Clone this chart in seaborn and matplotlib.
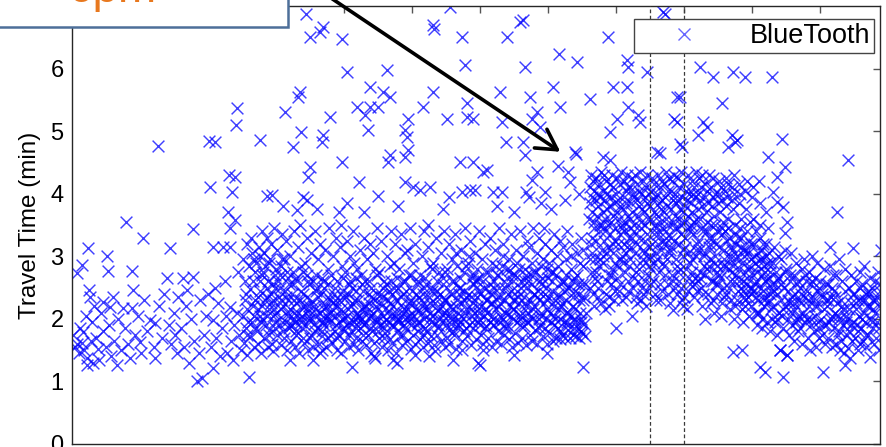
import numpy as np
import pandas as pd
import matplotlib
matplotlib.use("Agg")
import matplotlib.pyplot as plt
from matplotlib.patches import Rectangle
from matplotlib.lines import Line2D
import seaborn as sns

# ---------------- data (x = hours from start of axis, y = travel time in min) -------------
early_pts = [
    0.02,1.75, 0.05,1.55, 0.07,2.74, 0.08,1.6, 0.1,1.45, 0.12,1.85, 0.15,2.86, 0.15,1.62,
    0.16,1.79, 0.18,1.5, 0.2,2.05, 0.22,1.38, 0.22,1.26, 0.24,3.13, 0.25,2.46, 0.27,2.35,
    0.28,1.65, 0.3,1.95, 0.31,1.3, 0.33,2.2, 0.35,1.7, 0.38,1.52, 0.4,1.34, 0.42,2.1,
    0.45,1.8, 0.46,2.27, 0.5,1.55, 0.51,3.0, 0.53,2.77, 0.55,1.9, 0.56,2.19, 0.58,1.4,
    0.6,2.35, 0.62,1.65, 0.66,1.26, 0.68,2.0, 0.72,1.5, 0.75,2.18, 0.78,1.85, 0.8,3.54,
    0.82,1.6, 0.85,1.37, 0.88,2.77, 0.88,2.18, 0.9,2.46, 0.93,1.75, 0.97,2.05, 1.0,1.63,
    1.02,1.45, 1.04,3.3, 1.06,2.3, 1.1,1.8, 1.15,1.98, 1.2,1.55, 1.22,1.94, 1.22,1.37,
    1.28,2.2, 1.32,1.7, 1.36,2.4, 1.4,2.65, 1.42,1.9, 1.44,3.13, 1.46,1.6, 1.5,2.1,
    1.52,1.75, 1.54,1.46, 1.56,2.35, 1.6,1.85, 1.63,2.65, 1.65,1.55, 1.67,2.2, 1.69,2.46,
    1.72,1.3, 1.75,2.0, 1.78,2.67, 1.78,3.44, 1.8,1.65, 1.84,1.0, 1.86,1.45, 1.88,2.3,
    1.91,1.06, 1.94,1.75, 1.97,2.05, 2.0,2.4, 2.04,1.55, 2.07,1.22, 2.07,1.98, 2.07,3.15,
    2.1,2.5, 2.12,1.7, 2.15,2.25, 2.18,1.4, 2.2,1.85, 2.22,3.15, 2.25,2.6, 2.27,2.05,
    2.28,1.46, 2.32,2.19, 2.32,3.15, 2.34,1.65, 2.37,1.34, 2.38,1.9, 2.4,3.58, 2.32,3.46,
    2.43,2.1, 2.44,2.75, 2.46,1.75, 2.48,1.5, 2.6,1.07,
]

midday_a = [
    2.51,2.95, 2.53,1.62, 2.55,2.3, 2.56,1.85, 2.58,3.2, 2.52,2.05, 2.57,1.42, 2.54,2.6,
    2.61,1.72, 2.62,2.48, 2.64,3.05, 2.65,1.95, 2.66,2.2, 2.68,1.55, 2.69,2.75, 2.63,3.3,
    2.71,2.9, 2.72,1.8, 2.73,2.35, 2.74,1.6, 2.75,3.15, 2.76,2.05, 2.77,2.6, 2.78,1.45, 2.79,3.4, 2.74,2.15,
    2.8,2.0, 2.81,2.75, 2.82,1.7, 2.83,3.05, 2.84,2.3, 2.85,1.9, 2.86,3.3, 2.87,2.5, 2.88,1.55, 2.89,2.15, 2.84,2.85,
    2.9,1.82, 2.91,2.95, 2.92,2.25, 2.93,3.2, 2.94,1.6, 2.95,2.55, 2.96,2.05, 2.97,3.45, 2.98,1.95, 2.99,2.7, 2.93,2.4, 2.96,1.48,
    3.0,2.1, 3.01,3.1, 3.02,1.75, 3.03,2.6, 3.05,2.35, 3.06,1.9, 3.07,2.85, 3.08,1.58, 3.09,3.35, 3.04,2.0, 3.06,2.7,
    3.1,2.2, 3.11,1.7, 3.12,2.95, 3.13,2.45, 3.14,1.95, 3.15,3.25, 3.16,1.5, 3.17,2.65, 3.18,2.05, 3.19,1.85, 3.15,2.35,
    3.2,3.0, 3.21,2.15, 3.22,1.65, 3.23,2.4, 3.24,1.9, 3.25,2.75, 3.26,2.0, 3.27,3.4, 3.28,1.55, 3.29,2.25, 3.24,2.55,
    3.3,1.8, 3.31,2.6, 3.32,2.1, 3.33,3.15, 3.34,1.45, 3.35,2.3, 3.36,1.95, 3.37,2.85, 3.38,2.05, 3.39,1.7, 3.35,3.5,
    3.4,2.4, 3.41,1.62, 3.42,2.2, 3.43,2.9, 3.44,1.88, 3.45,3.3, 3.46,2.12, 3.47,1.5, 3.48,2.55, 3.49,1.98, 3.45,2.7,
    3.5,2.02, 3.51,3.05, 3.52,1.75, 3.53,2.28, 3.54,2.6, 3.55,1.55, 3.56,1.92, 3.57,3.4, 3.58,2.15, 3.59,2.45, 3.55,1.35,
    3.6,1.85, 3.61,2.35, 3.62,2.95, 3.63,1.6, 3.64,2.1, 3.65,3.2, 3.66,2.0, 3.67,2.65, 3.68,1.72, 3.69,2.22, 3.64,1.45,
    3.7,2.5, 3.71,1.9, 3.72,3.1, 3.73,1.55, 3.74,2.2, 3.75,2.05, 3.76,2.8, 3.77,1.7, 3.78,3.45, 3.79,2.3, 3.74,1.98,
    3.8,1.95, 3.81,2.7, 3.82,1.62, 3.83,2.15, 3.84,3.0, 3.85,2.4, 3.86,1.8, 3.87,2.05, 3.88,3.3, 3.89,1.5, 3.84,2.25,
    3.9,2.6, 3.91,1.75, 3.92,2.3, 3.93,1.95, 3.94,3.15, 3.95,2.1, 3.96,1.45, 3.97,2.85, 3.98,1.85, 3.99,2.45, 3.95,3.5,
]

midday_b = [
    4.0,2.0, 4.01,2.75, 4.02,1.65, 4.03,2.35, 4.04,3.25, 4.05,1.9, 4.06,2.15, 4.07,2.55, 4.08,1.55, 4.09,3.0, 4.04,2.05,
    4.1,1.8, 4.11,2.5, 4.12,2.25, 4.13,3.4, 4.14,1.6, 4.15,2.9, 4.16,2.0, 4.17,1.7, 4.18,2.65, 4.19,2.1, 4.15,1.95,
    4.2,2.3, 4.21,1.5, 4.22,2.05, 4.23,3.1, 4.24,1.85, 4.25,2.7, 4.26,2.15, 4.27,1.65, 4.28,2.45, 4.29,3.3, 4.24,1.98,
    4.3,1.92, 4.31,2.6, 4.32,1.58, 4.33,2.2, 4.34,2.95, 4.35,1.75, 4.36,2.4, 4.37,2.02, 4.38,3.2, 4.39,1.45, 4.34,2.12,
    4.4,2.5, 4.41,1.8, 4.42,3.05, 4.43,2.1, 4.44,1.62, 4.45,2.3, 4.46,2.8, 4.47,1.95, 4.48,3.45, 4.49,2.0, 4.44,1.4,
    4.5,2.15, 4.51,1.7, 4.52,2.75, 4.53,1.9, 4.54,3.25, 4.55,2.4, 4.56,1.55, 4.57,2.05, 4.58,2.6, 4.59,1.85, 4.54,2.25,
    4.6,1.78, 4.61,2.55, 4.62,2.0, 4.63,3.0, 4.64,1.5, 4.65,2.3, 4.66,2.12, 4.67,1.68, 4.68,2.85, 4.69,3.4, 4.64,1.95,
    4.7,2.4, 4.71,1.62, 4.72,2.2, 4.73,2.9, 4.74,1.88, 4.75,3.2, 4.76,2.05, 4.77,1.45, 4.78,2.65, 4.79,1.98, 4.74,2.5,
    4.8,2.0, 4.81,2.8, 4.82,1.72, 4.83,2.35, 4.84,3.35, 4.85,1.58, 4.86,2.1, 4.87,2.6, 4.88,1.9, 4.89,3.05, 4.84,2.22,
    4.9,1.85, 4.91,2.45, 4.92,3.1, 4.93,1.65, 4.94,2.15, 4.95,2.7, 4.96,1.98, 4.97,3.45, 4.98,2.3, 4.99,1.52, 4.94,2.05,
    5.0,2.25, 5.01,1.75, 5.02,2.9, 5.03,2.05, 5.04,1.6, 5.05,3.2, 5.06,2.4, 5.07,1.9, 5.08,2.6, 5.09,2.12, 5.04,1.42,
    5.1,1.95, 5.11,2.7, 5.12,1.68, 5.13,2.3, 5.14,3.0, 5.15,2.1, 5.16,1.55, 5.17,2.5, 5.18,3.4, 5.19,1.85, 5.14,2.2,
    5.2,2.55, 5.21,1.8, 5.22,2.15, 5.23,3.15, 5.24,1.62, 5.25,2.35, 5.26,2.0, 5.27,2.85, 5.28,1.72, 5.29,2.45, 5.24,3.5,
    5.3,2.05, 5.31,2.9, 5.32,1.58, 5.33,2.25, 5.34,1.92, 5.35,3.3, 5.36,2.6, 5.37,1.75, 5.38,2.12, 5.39,2.75, 5.34,1.48,
    5.4,1.88, 5.41,2.4, 5.42,3.05, 5.43,1.65, 5.44,2.2, 5.45,2.65, 5.46,1.98, 5.47,3.4, 5.48,1.55, 5.49,2.3, 5.44,2.08,
]

midday_c = [
    5.5,2.3, 5.51,1.7, 5.52,2.8, 5.53,2.05, 5.54,3.2, 5.55,1.6, 5.56,2.45, 5.57,1.92, 5.58,2.15, 5.59,2.95, 5.54,1.82,
    5.6,2.0, 5.61,2.6, 5.62,1.75, 5.63,3.35, 5.64,2.2, 5.65,1.52, 5.66,2.85, 5.67,2.1, 5.68,1.85, 5.69,2.4, 5.64,3.05,
    5.7,1.95, 5.71,2.5, 5.72,3.1, 5.73,1.65, 5.74,2.25, 5.75,2.02, 5.76,2.75, 5.77,1.8, 5.78,3.45, 5.79,2.35, 5.74,1.5,
    5.8,2.15, 5.81,1.72, 5.82,2.9, 5.83,2.4, 5.84,1.9, 5.85,3.25, 5.86,2.05, 5.87,1.58, 5.88,2.65, 5.89,2.25, 5.84,3.0,
    5.9,1.85, 5.91,2.55, 5.92,2.1, 5.93,3.05, 5.94,1.68, 5.95,2.35, 5.96,2.8, 5.97,1.95, 5.98,3.4, 5.99,2.0, 5.94,2.62,
    6.0,2.4, 6.01,1.75, 6.02,2.2, 6.03,2.95, 6.04,1.6, 6.05,2.6, 6.06,2.05, 6.07,3.2, 6.08,1.88, 6.09,2.3, 6.04,1.5,
    6.1,2.1, 6.11,2.75, 6.12,1.7, 6.13,2.45, 6.14,3.3, 6.15,1.95, 6.16,2.25, 6.17,1.55, 6.18,2.9, 6.19,2.0, 6.14,2.55,
    6.2,1.9, 6.21,2.5, 6.22,3.1, 6.23,2.15, 6.24,1.65, 6.25,2.7, 6.26,2.35, 6.27,1.8, 6.28,3.45, 6.29,2.05, 6.24,2.85,
    6.3,2.25, 6.31,1.6, 6.32,2.85, 6.33,2.0, 6.34,3.2, 6.35,1.75, 6.36,2.5, 6.37,2.1, 6.38,1.92, 6.39,2.65, 6.34,3.0,
    6.4,1.85, 6.41,2.4, 6.42,2.95, 6.43,1.68, 6.44,2.2, 6.45,3.35, 6.46,2.05, 6.47,1.55, 6.48,2.6, 6.49,2.3, 6.44,2.78,
    6.5,2.15, 6.51,1.78, 6.52,2.7, 6.53,3.1, 6.54,1.95, 6.55,2.45, 6.56,1.62, 6.57,2.25, 6.58,3.4, 6.59,2.0, 6.54,2.9,
    6.6,2.5, 6.61,1.7, 6.62,2.1, 6.63,3.0, 6.64,1.88, 6.65,2.35, 6.66,2.8, 6.67,1.58, 6.68,2.2, 6.69,3.25, 6.64,2.62,
    6.7,1.95, 6.71,2.6, 6.72,3.15, 6.73,1.75, 6.74,2.3, 6.75,2.05, 6.76,2.9, 6.77,1.65, 6.78,3.45, 6.79,2.4, 6.74,2.72,
    6.8,2.2, 6.81,1.82, 6.82,2.75, 6.83,1.6, 6.84,3.05, 6.85,2.45, 6.86,2.0, 6.87,3.3, 6.88,1.9, 6.89,2.55, 6.84,2.35,
    6.9,2.05, 6.91,2.65, 6.92,1.72, 6.93,2.95, 6.94,2.25, 6.95,3.2, 6.96,1.85, 6.97,2.5, 6.98,1.6, 6.99,2.8, 6.94,3.45,
    7.0,2.35, 7.01,1.78, 7.02,2.9, 7.03,2.1, 7.04,3.1, 7.05,1.95, 7.06,2.6, 7.07,1.65, 7.08,2.2, 7.09,3.35, 7.04,2.75,
    7.1,2.0, 7.11,2.7, 7.12,1.7, 7.13,3.0, 7.14,2.4, 7.15,1.85, 7.16,2.15, 7.17,3.25, 7.18,1.68, 7.19,2.55, 7.14,2.85,
    7.2,2.25, 7.21,1.75, 7.22,3.15, 7.23,1.95, 7.24,2.6, 7.25,1.7, 7.26,2.95, 7.27,2.1, 7.28,3.4, 7.29,1.82, 7.24,2.45,
    7.3,1.9, 7.31,2.5, 7.32,1.7, 7.33,2.8, 7.34,2.05, 7.35,3.2, 7.36,1.75, 7.37,2.35, 7.38,2.65, 7.39,1.95, 7.34,3.0,
    7.4,2.15, 7.41,1.72, 7.42,2.7, 7.43,3.05, 7.44,1.85, 7.45,2.4, 7.46,1.7, 7.47,2.9, 7.48,2.0, 7.49,3.3, 7.44,2.55,
    7.5,1.78, 7.51,2.3, 7.52,2.85, 7.53,1.92, 7.54,2.55, 7.52,3.1, 7.55,2.1,
]

midday_core = [
    2.56,2.4, 2.58,1.75, 2.6,2.85, 2.57,2.15, 2.59,1.95, 2.66,2.6, 2.68,2.05, 2.7,1.85, 2.67,2.95, 2.69,2.3,
    2.76,2.45, 2.78,1.95, 2.8,2.7, 2.77,3.0, 2.79,2.2, 2.86,2.05, 2.88,2.6, 2.9,1.75, 2.87,2.35, 2.89,2.9,
    2.96,2.3, 2.98,1.85, 3.0,2.8, 2.97,2.15, 2.99,2.5, 3.06,2.5, 3.08,2.15, 3.1,1.8, 3.07,2.3, 3.09,2.95,
    3.16,2.75, 3.18,2.3, 3.2,1.9, 3.17,2.1, 3.19,2.55, 3.26,2.3, 3.28,1.95, 3.3,2.65, 3.27,2.1, 3.29,1.75,
    3.36,2.45, 3.38,1.85, 3.4,2.2, 3.37,2.0, 3.39,2.75, 3.46,2.35, 3.48,2.05, 3.5,1.7, 3.47,2.6, 3.49,2.2,
    3.56,2.2, 3.58,1.8, 3.6,2.5, 3.57,2.05, 3.59,2.7, 3.66,2.4, 3.68,1.95, 3.7,2.15, 3.67,1.8, 3.69,2.6,
    3.76,2.35, 3.78,2.0, 3.8,1.75, 3.77,2.55, 3.79,2.1, 3.86,2.5, 3.88,1.9, 3.9,2.2, 3.87,2.3, 3.89,1.7,
    3.96,2.15, 3.98,2.35, 4.0,1.8, 3.97,2.0, 3.99,2.65, 4.06,2.4, 4.08,1.95, 4.1,2.2, 4.07,1.75, 4.09,2.6,
    4.16,2.3, 4.18,1.85, 4.2,2.05, 4.17,2.45, 4.19,2.8, 4.26,2.55, 4.28,1.75, 4.3,2.2, 4.27,2.0, 4.29,1.9,
    4.36,2.25, 4.38,2.05, 4.4,1.85, 4.37,2.6, 4.39,2.35, 4.46,2.0, 4.48,2.4, 4.5,1.8, 4.47,2.2, 4.49,2.7,
    4.56,2.35, 4.58,1.95, 4.6,2.15, 4.57,2.5, 4.59,1.7, 4.66,2.45, 4.68,2.05, 4.7,1.9, 4.67,2.25, 4.69,2.6,
    4.76,2.3, 4.78,1.8, 4.8,2.5, 4.77,2.1, 4.79,1.95, 4.86,2.4, 4.88,2.15, 4.9,2.0, 4.87,1.75, 4.89,2.6,
    4.96,2.25, 4.98,1.9, 5.0,2.45, 4.97,2.05, 4.99,2.7, 5.06,2.15, 5.08,1.8, 5.1,2.35, 5.07,2.55, 5.09,1.95,
    5.16,2.4, 5.18,2.0, 5.2,2.2, 5.17,1.75, 5.19,2.65, 5.26,2.25, 5.28,1.95, 5.3,2.5, 5.27,2.1, 5.29,2.8,
    5.36,2.35, 5.38,1.85, 5.4,2.15, 5.37,2.45, 5.39,2.0, 5.46,2.55, 5.48,2.1, 5.5,1.9, 5.47,2.3, 5.49,2.75,
    5.56,2.2, 5.58,2.6, 5.6,1.8, 5.57,2.4, 5.59,2.05, 5.66,2.3, 5.68,2.0, 5.7,2.65, 5.67,1.9, 5.69,2.5,
    5.76,2.45, 5.78,2.1, 5.8,1.85, 5.77,2.3, 5.79,2.85, 5.86,2.35, 5.88,1.95, 5.9,2.55, 5.87,2.15, 5.89,2.7,
    5.96,2.2, 5.98,2.45, 6.0,1.9, 5.97,2.65, 5.99,2.1, 6.06,2.5, 6.08,2.15, 6.1,2.3, 6.07,1.85, 6.09,2.75,
    6.16,2.4, 6.18,2.05, 6.2,2.6, 6.17,2.25, 6.19,1.9, 6.26,2.2, 6.28,2.5, 6.3,1.95, 6.27,2.7, 6.29,2.35,
    6.36,2.3, 6.38,2.1, 6.4,2.55, 6.37,1.85, 6.39,2.8, 6.46,2.45, 6.48,2.0, 6.5,2.3, 6.47,2.7, 6.49,2.15,
    6.56,2.35, 6.58,2.05, 6.6,2.6, 6.57,2.8, 6.59,1.9, 6.66,2.25, 6.68,2.5, 6.7,2.1, 6.67,2.7, 6.69,1.95,
    6.76,2.55, 6.78,2.15, 6.8,2.4, 6.77,2.0, 6.79,2.75, 6.86,2.3, 6.88,2.6, 6.9,2.1, 6.87,1.85, 6.89,2.85,
    6.96,2.4, 6.98,2.15, 7.0,2.65, 6.97,2.0, 6.99,2.3, 7.06,2.45, 7.08,1.9, 7.1,2.3, 7.07,2.75, 7.09,2.05,
    7.16,2.35, 7.18,2.0, 7.2,2.6, 7.17,1.8, 7.19,2.2, 7.26,2.3, 7.28,1.95, 7.3,2.5, 7.27,2.7, 7.29,2.1,
    7.36,2.2, 7.38,1.85, 7.4,2.45, 7.37,2.6, 7.39,2.0, 7.46,2.3, 7.48,1.8, 7.5,2.55, 7.47,2.1, 7.49,1.95,
    7.53,2.35, 7.54,1.72,
]

peak_a = [
    7.6,3.6, 7.61,4.1, 7.62,3.85, 7.63,4.3, 7.64,3.7, 7.65,3.95, 7.66,4.2, 7.67,3.55, 7.68,4.05, 7.69,2.95, 7.62,2.5, 7.65,3.3, 7.67,2.2, 7.64,2.75,
    7.7,3.9, 7.71,4.25, 7.72,3.65, 7.73,4.0, 7.74,3.8, 7.75,4.15, 7.76,3.5, 7.77,3.95, 7.78,4.35, 7.79,3.1, 7.72,2.6, 7.75,2.85, 7.77,3.4, 7.74,2.35,
    7.8,4.05, 7.81,3.7, 7.82,4.3, 7.83,3.6, 7.84,3.9, 7.85,4.2, 7.86,3.75, 7.87,4.0, 7.88,3.5, 7.89,2.7, 7.82,3.25, 7.85,2.4, 7.87,3.05, 7.84,2.15,
    7.9,3.8, 7.91,4.15, 7.92,3.55, 7.93,3.95, 7.94,4.3, 7.95,3.65, 7.96,4.1, 7.97,3.85, 7.98,3.45, 7.99,2.9, 7.92,2.55, 7.95,3.2, 7.97,2.3, 7.94,2.8,
    8.0,4.0, 8.01,3.7, 8.02,4.25, 8.03,3.9, 8.04,3.6, 8.05,4.15, 8.06,3.8, 8.07,4.35, 8.08,3.5, 8.09,3.0, 8.02,2.65, 8.05,3.35, 8.0,1.85, 8.04,2.45,
    8.1,3.75, 8.11,4.2, 8.12,3.95, 8.13,3.55, 8.14,4.05, 8.15,3.85, 8.16,4.3, 8.17,3.65, 8.18,4.1, 8.19,2.85, 8.12,3.2, 8.15,2.35, 8.17,2.6, 8.14,3.05,
    8.2,4.1, 8.21,3.6, 8.22,3.85, 8.23,4.25, 8.24,3.7, 8.25,4.0, 8.26,3.5, 8.27,3.95, 8.28,4.3, 8.29,2.75, 8.22,3.15, 8.25,2.5, 8.27,3.4, 8.24,2.05,
    8.3,3.9, 8.31,4.15, 8.32,3.65, 8.33,4.05, 8.34,3.8, 8.35,4.35, 8.36,3.55, 8.37,4.0, 8.38,3.75, 8.39,3.1, 8.32,2.6, 8.35,2.9, 8.37,2.3, 8.34,3.3,
    8.4,4.2, 8.41,3.7, 8.42,3.95, 8.43,3.5, 8.44,4.1, 8.45,3.85, 8.46,4.3, 8.47,3.6, 8.48,4.0, 8.49,2.95, 8.42,3.25, 8.45,2.45, 8.47,2.7, 8.44,2.2,
    8.5,3.8, 8.51,4.05, 8.52,3.6, 8.53,4.25, 8.54,3.9, 8.55,3.7, 8.56,4.15, 8.57,3.5, 8.58,3.95, 8.59,3.05, 8.52,2.8, 8.55,3.35, 8.57,2.4, 8.54,2.6,
    8.6,4.0, 8.61,3.65, 8.62,4.3, 8.63,3.85, 8.64,3.55, 8.65,4.1, 8.66,3.75, 8.67,4.2, 8.68,3.9, 8.69,2.9, 8.62,3.2, 8.65,2.55, 8.67,3.45, 8.64,2.3,
    8.7,3.7, 8.71,4.15, 8.72,3.95, 8.73,3.6, 8.74,4.35, 8.75,3.8, 8.76,4.05, 8.77,3.5, 8.78,4.25, 8.79,3.1, 8.72,2.7, 8.75,2.95, 8.77,2.4, 8.74,3.3,
    8.8,4.05, 8.81,3.75, 8.82,4.2, 8.83,3.55, 8.84,3.9, 8.85,4.3, 8.86,3.65, 8.87,4.0, 8.88,3.85, 8.89,2.85, 8.84,2.14, 8.85,3.25, 8.87,2.5, 8.82,2.7,
    8.9,3.9, 8.91,4.25, 8.92,3.6, 8.93,4.1, 8.94,3.75, 8.95,3.5, 8.96,4.35, 8.97,3.95, 8.98,3.7, 8.99,3.0, 8.92,2.6, 8.95,3.35, 8.97,2.3, 8.94,2.8,
]

peak_b = [
    9.0,4.15, 9.01,3.8, 9.02,3.55, 9.03,4.05, 9.04,3.9, 9.05,4.3, 9.06,3.65, 9.07,4.0, 9.08,3.45, 9.09,2.9, 9.02,3.15, 9.05,2.45, 9.07,2.65, 9.04,2.15,
    9.1,3.85, 9.11,4.2, 9.12,3.7, 9.13,4.0, 9.14,3.55, 9.15,4.1, 9.16,3.95, 9.17,4.35, 9.18,3.6, 9.19,3.2, 9.12,2.75, 9.15,2.35, 9.17,3.0, 9.14,2.55,
    9.2,4.0, 9.21,3.75, 9.22,4.25, 9.23,3.9, 9.24,3.6, 9.25,4.1, 9.26,3.8, 9.27,4.3, 9.28,3.4, 9.29,2.85, 9.22,3.1, 9.25,2.5, 9.27,2.2, 9.24,2.65,
    9.3,3.95, 9.31,4.15, 9.32,3.7, 9.33,4.05, 9.34,3.55, 9.35,3.85, 9.36,4.3, 9.37,3.3, 9.38,2.95, 9.39,2.6, 9.3,2.0, 9.35,2.4, 9.37,3.15, 9.34,2.8,
    9.4,4.1, 9.41,3.8, 9.42,3.95, 9.43,4.25, 9.44,3.65, 9.45,4.0, 9.46,3.5, 9.47,3.2, 9.48,2.75, 9.49,3.4, 9.42,2.3, 9.45,2.9, 9.47,2.55, 9.44,2.1,
    9.5,3.85, 9.51,4.2, 9.52,4.0, 9.53,3.7, 9.54,4.1, 9.55,3.9, 9.56,3.35, 9.57,2.85, 9.58,3.1, 9.59,2.5, 9.52,2.7, 9.55,2.25, 9.57,3.55, 9.54,2.05,
    9.6,4.05, 9.61,3.8, 9.62,4.25, 9.63,3.95, 9.64,3.6, 9.65,4.15, 9.66,3.3, 9.67,2.95, 9.68,2.6, 9.69,3.15, 9.62,2.4, 9.65,2.8, 9.67,2.15, 9.64,3.45,
    9.7,3.9, 9.71,4.1, 9.72,3.75, 9.73,4.3, 9.74,4.0, 9.75,3.5, 9.76,3.2, 9.77,2.7, 9.78,3.0, 9.79,2.45, 9.72,2.85, 9.75,2.2, 9.77,3.35, 9.74,2.0,
    9.8,4.15, 9.81,3.85, 9.82,4.0, 9.83,3.6, 9.84,3.3, 9.85,2.9, 9.86,3.1, 9.87,2.6, 9.88,2.35, 9.89,2.75, 9.82,3.45, 9.85,2.15, 9.87,1.95, 9.84,2.5,
    9.9,4.05, 9.91,3.75, 9.92,4.2, 9.93,3.4, 9.94,3.05, 9.95,2.8, 9.96,3.25, 9.97,2.5, 9.98,2.2, 9.99,2.95, 9.92,2.65, 9.95,2.05, 9.97,3.55, 9.94,2.35,
    10.0,3.95, 10.01,4.1, 10.02,3.6, 10.03,3.2, 10.04,2.9, 10.05,3.4, 10.06,2.6, 10.07,2.75, 10.08,2.3, 10.09,3.05, 10.02,2.45, 10.05,2.1, 10.07,1.9, 10.04,2.55,
    10.1,4.2, 10.11,3.85, 10.12,3.3, 10.13,2.95, 10.14,3.1, 10.15,2.7, 10.16,2.45, 10.17,2.85, 10.18,2.2, 10.19,2.6, 10.12,3.5, 10.15,2.0, 10.17,2.35, 10.14,1.85,
    10.2,3.7, 10.21,3.2, 10.22,2.9, 10.23,3.45, 10.24,2.65, 10.25,3.05, 10.26,2.4, 10.27,2.75, 10.28,2.15, 10.29,2.55, 10.22,1.95, 10.25,2.3, 10.27,1.8,
]

peak_lower = [
    7.61,2.95, 7.63,3.2, 7.66,2.4, 7.68,3.45, 7.69,2.65, 7.64,3.05, 7.71,3.25, 7.73,2.5, 7.76,2.95, 7.78,2.25, 7.79,3.5, 7.7,2.75,
    7.81,2.9, 7.83,3.4, 7.86,2.6, 7.88,3.15, 7.89,2.35, 7.8,3.0, 7.91,3.35, 7.93,2.7, 7.96,3.05, 7.98,2.45, 7.99,3.25, 7.9,2.2,
    8.01,2.85, 8.03,3.2, 8.06,2.55, 8.08,3.45, 8.09,2.3, 8.07,2.95, 8.11,3.4, 8.13,2.75, 8.16,3.15, 8.18,2.45, 8.19,3.3, 8.1,2.9,
    8.21,2.95, 8.23,3.3, 8.26,2.65, 8.28,3.05, 8.29,2.35, 8.2,3.45, 8.31,3.2, 8.33,2.8, 8.36,3.45, 8.38,2.5, 8.39,2.95, 8.3,2.25,
    8.41,3.05, 8.43,2.6, 8.46,3.35, 8.48,2.85, 8.49,3.15, 8.4,2.4, 8.51,2.55, 8.53,3.2, 8.56,2.9, 8.58,3.45, 8.59,2.3, 8.5,3.0,
    8.61,3.35, 8.63,2.75, 8.66,3.1, 8.68,2.45, 8.69,3.25, 8.6,2.95, 8.71,2.85, 8.73,3.4, 8.76,2.55, 8.78,3.05, 8.79,2.25, 8.7,3.2,
    8.81,3.15, 8.83,2.6, 8.86,3.45, 8.88,2.95, 8.89,2.4, 8.8,3.3, 8.91,2.75, 8.93,3.2, 8.96,2.5, 8.98,3.1, 8.99,2.2, 8.9,3.45,
    9.01,3.3, 9.03,2.8, 9.06,3.05, 9.08,2.55, 9.09,3.4, 9.0,2.35, 9.11,2.95, 9.13,3.35, 9.16,2.65, 9.18,3.1, 9.19,2.45, 9.1,3.5,
    9.21,3.25, 9.23,2.75, 9.26,3.45, 9.28,2.4, 9.29,3.0, 9.2,2.6, 9.31,2.7, 9.33,3.4, 9.36,2.85, 9.38,3.2, 9.39,2.25, 9.3,3.05,
    9.41,3.3, 9.43,2.6, 9.46,3.0, 9.48,2.4, 9.49,2.85, 9.4,3.5, 9.51,3.15, 9.53,2.65, 9.56,3.45, 9.58,2.35, 9.59,2.95, 9.5,2.55,
    9.61,2.85, 9.63,3.25, 9.66,2.5, 9.68,3.0, 9.69,2.3, 9.6,3.4, 9.71,3.1, 9.73,2.6, 9.76,2.95, 9.78,2.3, 9.79,3.3, 9.7,2.75,
    9.81,2.8, 9.83,3.15, 9.86,2.45, 9.88,3.0, 9.89,2.2, 9.8,2.6, 9.91,3.1, 9.93,2.55, 9.96,2.85, 9.98,2.4, 9.99,3.2, 9.9,2.3,
    10.01,2.7, 10.03,3.0, 10.06,2.35, 10.08,2.85, 10.09,2.1, 10.0,2.5, 10.11,2.95, 10.13,2.5, 10.16,3.2, 10.18,2.3, 10.19,2.75, 10.1,2.1,
    10.21,2.6, 10.23,2.25, 10.26,2.9, 10.28,2.45, 10.29,2.0, 10.2,3.0,
]

late_pts = [
    10.3,2.9, 10.31,2.2, 10.32,3.15, 10.33,2.55, 10.34,1.95, 10.35,2.75, 10.36,2.4, 10.37,1.75, 10.38,3.0, 10.39,2.1,
    10.4,2.65, 10.41,1.5, 10.42,2.3, 10.43,2.95, 10.44,2.05, 10.45,1.85, 10.46,1.07, 10.47,2.5, 10.48,3.1, 10.49,2.2,
    10.5,2.8, 10.51,1.42, 10.52,2.0, 10.53,2.45, 10.54,1.75, 10.55,2.6, 10.56,2.25, 10.57,3.05, 10.58,1.9, 10.59,2.35,
    10.6,2.15, 10.61,2.7, 10.62,1.65, 10.63,2.4, 10.64,2.9, 10.65,1.95, 10.66,2.55, 10.67,2.05, 10.68,1.8, 10.69,2.3,
    10.7,2.5, 10.71,1.85, 10.72,2.25, 10.73,2.8, 10.74,1.6, 10.75,2.1, 10.76,2.95, 10.77,2.35, 10.78,1.95, 10.79,2.6,
    10.8,2.0, 10.81,2.45, 10.82,1.7, 10.83,2.75, 10.84,2.2, 10.85,1.5, 10.86,2.55, 10.87,1.9, 10.88,3.0, 10.89,2.3,
    10.9,2.35, 10.91,1.8, 10.92,2.65, 10.93,2.05, 10.94,1.55, 10.95,2.9, 10.96,2.2, 10.97,1.95, 10.98,2.5, 10.99,1.7,
    11.0,2.6, 11.01,2.0, 11.02,1.75, 11.03,2.4, 11.04,1.15, 11.05,2.8, 11.06,2.15, 11.07,1.6, 11.08,2.3, 11.09,1.9,
    11.1,2.2, 11.11,1.7, 11.12,2.55, 11.13,1.95, 11.14,2.85, 11.15,3.15, 11.16,2.35, 11.17,1.55, 11.18,2.05, 11.19,2.7,
    11.2,1.85, 11.21,2.45, 11.22,2.1, 11.23,1.6, 11.24,2.7, 11.25,2.25, 11.26,1.75, 11.27,2.95, 11.28,2.0, 11.29,1.5,
    11.3,2.3, 11.31,1.65, 11.32,2.6, 11.33,1.9, 11.34,2.15, 11.35,1.45, 11.36,2.8, 11.37,1.26, 11.38,2.05, 11.39,1.75,
    11.4,2.0, 11.41,1.53, 11.42,2.5, 11.43,1.8, 11.44,1.37, 11.45,2.25, 11.46,2.7, 11.47,1.65, 11.48,1.95, 11.49,3.13,
    11.5,2.4, 11.51,1.7, 11.52,2.15, 11.53,2.6, 11.54,1.9, 11.55,1.5, 11.56,2.3, 11.57,2.05, 11.58,1.6, 11.59,2.75,
    11.6,1.85, 11.61,2.3, 11.62,2.55, 11.63,1.65, 11.64,2.1, 11.65,2.85, 11.66,1.95, 11.67,2.4, 11.68,1.55, 11.69,2.2,
    11.7,2.45, 11.71,1.75, 11.72,2.2, 11.73,2.65, 11.74,1.39, 11.75,2.0, 11.76,2.5, 11.77,1.85, 11.78,2.3, 11.79,1.6,
    11.8,2.1, 11.81,2.6, 11.82,1.7, 11.83,2.35, 11.84,1.95, 11.85,2.75, 11.86,1.5, 11.87,2.2, 11.88,2.45, 11.89,3.1,
    10.32,2.45, 10.36,2.0, 10.38,2.65, 10.42,2.55, 10.46,2.15, 10.48,2.75, 10.52,2.3, 10.56,2.7, 10.58,2.1,
    10.62,2.25, 10.66,2.0, 10.68,2.6, 10.72,2.4, 10.76,2.05, 10.78,2.7, 10.82,2.3, 10.86,2.0, 10.88,2.6,
    10.92,2.2, 10.96,2.45, 10.98,1.85, 11.02,2.35, 11.06,1.9, 11.08,2.55, 11.12,2.3, 11.16,2.0, 11.18,2.5,
    11.22,2.35, 11.26,2.05, 11.28,1.8, 11.32,2.2, 11.36,2.45, 11.38,1.95, 11.42,2.15, 11.46,1.9, 11.48,2.4,
    11.52,2.25, 11.56,1.8, 11.58,2.5, 11.62,2.0, 11.66,2.3, 11.68,1.75, 11.72,2.4, 11.76,1.95, 11.78,2.15,
    11.82,2.3, 11.86,1.85, 11.88,2.55,
]

low_stragglers = [
    3.2,1.35, 3.68,1.5, 4.12,1.23, 4.45,1.38, 4.72,1.34, 4.78,1.3, 5.25,1.4, 5.6,1.35,
    5.97,1.3, 6.0,1.26, 6.5,1.42, 6.99,1.46, 7.51,1.23, 9.72,1.47, 9.85,1.5, 10.12,1.23,
    10.19,1.15, 10.41,1.5, 10.51,1.42,
]

high_outliers = [
    1.26,4.77, 2.01,4.85, 2.1,4.82, 2.76,4.86, 2.31,4.3, 2.4,4.27, 2.03,4.1, 2.35,4.03,
    2.87,3.97, 2.3,3.7, 2.43,5.37, 2.41,5.1, 2.94,3.98,
    3.44,6.88, 3.5,6.51, 3.65,6.58, 3.69,6.67, 3.97,6.48, 4.04,5.95, 4.63,5.97, 5.31,6.7,
    5.32,6.64, 5.56,6.98, 5.73,6.51, 5.78,6.06, 3.32,5.55, 3.35,5.62, 3.13,5.31, 3.79,5.23,
    4.38,5.71, 4.57,5.63, 4.68,5.55, 4.19,5.39, 4.31,5.26, 4.38,5.39, 4.5,5.39, 4.35,5.02,
    4.94,5.2, 4.9,5.02, 4.93,4.91, 5.16,5.39, 5.31,5.62, 5.51,5.2, 5.81,5.45, 5.81,5.23,
    5.9,5.2, 3.37,4.98, 3.25,4.75, 3.69,4.94, 3.68,4.83, 3.97,4.5, 3.5,4.42, 3.47,4.27,
    4.68,4.62, 4.65,4.51, 4.94,4.7, 4.9,4.59, 4.22,4.18, 4.5,3.97, 4.9,4.19, 5.01,4.11,
    5.12,4.06, 5.26,4.11, 5.71,4.5, 5.9,4.5, 5.74,4.02, 5.85,4.06, 3.4,3.95, 3.45,3.9,
    3.31,3.74, 3.93,3.71, 3.1,3.8, 3.6,3.75, 4.05,3.85, 4.3,3.7, 4.8,3.8, 5.45,3.75,
    5.55,3.95, 6.25,3.8, 6.5,3.7, 6.9,3.85, 7.05,3.75, 7.25,3.9, 7.45,4.0, 7.15,4.45,
    6.59,6.74, 6.63,6.78, 6.4,6.5, 7.16,6.24, 7.43,6.1, 6.66,6.02, 7.88,6.51, 8.69,6.91,
    8.72,6.88, 8.16,6.14, 8.18,6.03, 8.46,5.95, 6.29,5.62, 6.74,5.55, 7.07,5.71, 7.18,5.39,
    7.62,5.52, 7.96,5.7, 8.16,5.7, 8.18,5.39, 8.32,5.26, 8.35,5.14, 8.01,5.2, 7.91,4.98,
    6.84,5.3, 6.76,5.2, 6.88,5.07, 6.32,5.15, 6.38,4.82, 6.63,4.82, 6.66,4.62, 7.4,4.67,
    7.41,4.64, 6.04,4.35, 6.1,4.38, 6.84,4.35, 6.76,4.22, 7.29,4.34, 7.32,4.19, 6.19,4.03,
    6.32,4.03, 6.96,4.02, 6.68,4.02, 6.72,3.95, 5.93,4.06, 8.6,4.67, 7.81,4.59, 7.91,4.54,
    8.65,4.65, 8.94,4.8, 9.78,4.86, 9.24,6.02, 9.43,5.87, 9.72,5.94, 9.9,5.87, 10.29,5.86,
    8.9,5.55, 8.94,5.54, 9.56,5.45, 8.85,5.2, 8.9,5.14, 9.28,5.15, 9.34,5.06, 9.21,4.94,
    9.7,4.94, 9.75,4.83, 9.65,4.74, 10.44,4.88, 8.97,4.75, 10.24,4.58, 10.49,4.43, 10.37,4.26,
    11.41,4.54, 11.25,3.71, 10.31,4.02, 10.37,3.86, 10.46,3.78, 10.51,3.55, 10.49,3.38,
]

y_ticks = [0, 1, 2, 3, 4, 5, 6]
x_ticks = [1, 2, 3, 4, 5, 6, 7, 8, 9, 10, 11]
marker_lines = [8.5, 9.0]
series_label = "BlueTooth"
y_label = "Travel Time (min)"
callout_text = "6pm"
callout_target = (7.18, 4.67)

# ---------------- build frame ----------------
regions = [early_pts, midday_a, midday_b, midday_c, midday_core, peak_a, peak_b,
           peak_lower, late_pts, low_stragglers, high_outliers]
pts = np.concatenate([np.array(r, dtype=float).reshape(-1, 2) for r in regions])
df = pd.DataFrame({"time": pts[:, 0], "travel": pts[:, 1], "src": series_label})

# ---------------- style ----------------
sns.set_style("white")
plt.rcParams["font.family"] = ["Liberation Sans", "DejaVu Sans"]

W, H = 887, 447
fig = plt.figure(figsize=(W / 100, H / 100), dpi=100)
ax = fig.add_axes([72 / W, 3 / H, 808 / W, 438 / H])

sns.scatterplot(data=df, x="time", y="travel", marker="x", color="#0000ff",
                s=72, linewidth=1.05, alpha=0.75, ax=ax, legend=False)

for xv in marker_lines:
    ax.axvline(xv, color="#3a3a3a", lw=0.9, ls=(0, (3, 2)), zorder=3)

ax.set_xlim(0, 11.88)
ax.set_ylim(0, 7)
ax.set_yticks(y_ticks)
ax.set_xticks(x_ticks)
ax.set_xticklabels([])
ax.tick_params(axis="both", which="both", direction="in", length=5,
               color="#555555", width=1, top=True, right=True,
               labelsize=17, pad=6, labelcolor="black")
ax.set_xlabel("")
ax.set_ylabel(y_label, fontsize=17.5, labelpad=7, color="black")
for sp in ax.spines.values():
    sp.set_visible(True)
    sp.set_color("#262626")
    sp.set_linewidth(1.0)

# legend (MATLAB style box)
handle = Line2D([], [], marker="x", ls="none", color="#0000ff", alpha=0.6,
                markersize=9, markeredgewidth=1.0)
leg = ax.legend([handle], [series_label], loc="upper right",
                bbox_to_anchor=(0.9926, 0.970), borderaxespad=0,
                fontsize=19.5, frameon=True, fancybox=False, framealpha=1,
                edgecolor="#444444", handlelength=3.4, handletextpad=0.7,
                borderpad=0.15)
leg.get_frame().set_linewidth(1.0)
for t in leg.get_texts():
    t.set_color("black")

# callout box with arrow
ax.annotate("", xy=callout_target, xycoords="data",
            xytext=(0.307, 1.035), textcoords="axes fraction",
            arrowprops=dict(arrowstyle="->,head_length=0.8,head_width=0.45",
                            color="black", lw=2.6, mutation_scale=18,
                            shrinkA=0, shrinkB=0),
            annotation_clip=False, zorder=6)

box = Rectangle((-0.02, (H - 27) / H), 288 / W + 0.02, 0.2,
                transform=fig.transFigure, facecolor="white",
                edgecolor="#4d6f99", lw=1.8, zorder=10)
fig.patches.append(box)
fig.text(112 / W, (H - 2) / H, callout_text, color="#e8781e", fontsize=33,
         ha="center", va="baseline", zorder=11)

fig.savefig("out.png", dpi=100)
